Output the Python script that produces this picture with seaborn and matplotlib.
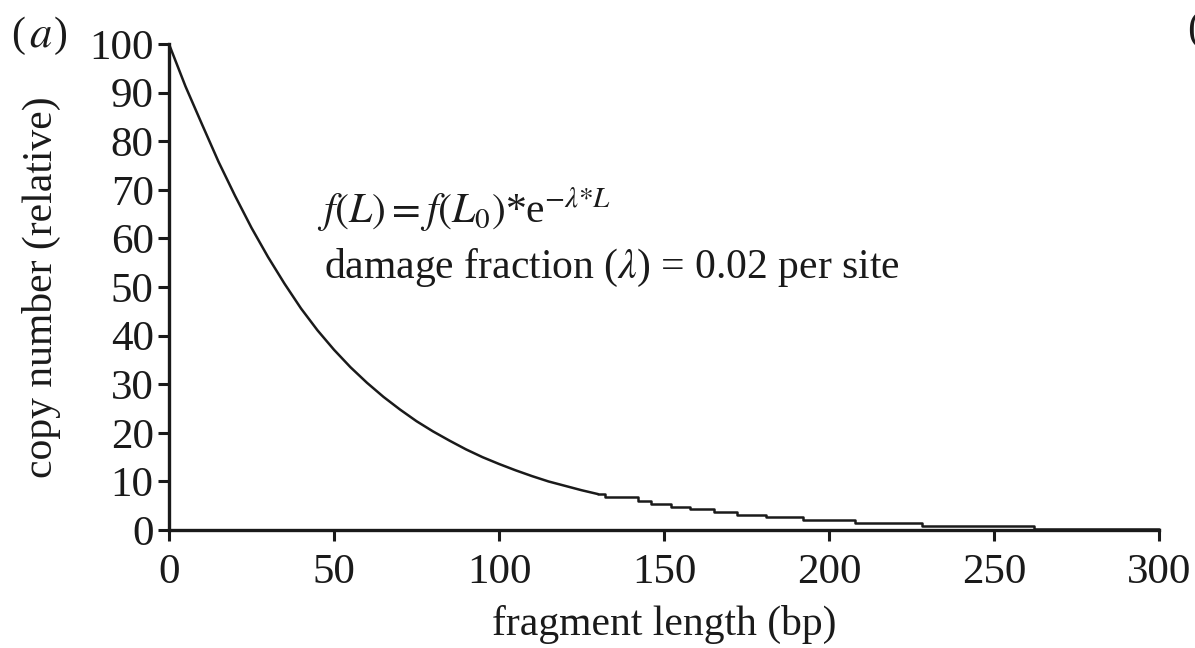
import numpy as np
import pandas as pd
import matplotlib
matplotlib.use("Agg")
import matplotlib.pyplot as plt
import seaborn as sns

# Smooth head of the decay curve
head_length = [0, 5, 10, 15, 20, 25, 30, 35, 40, 45, 50, 55, 60, 65, 70, 75, 80,
               85, 90, 95, 100, 105, 110, 115, 120, 125, 130]
head_copies = [100, 91.3, 83.5, 75.8, 68.8, 62.2, 56.2, 50.7, 45.6, 41.1, 37.1, 33.5,
               30.3, 27.4, 24.8, 22.4, 20.3, 18.4, 16.6, 15.0, 13.6, 12.3, 11.1, 10.0,
               9.1, 8.2, 7.4]
# Stepped tail (start of each step and its level)
tail_length = [130, 132, 142, 146, 152, 158, 165, 172, 181, 192, 208, 228, 262, 300]
tail_copies = [7.4, 6.9, 6.0, 5.4, 4.8, 4.3, 3.7, 3.2, 2.7, 2.1, 1.5, 0.9, 0.25, 0.25]

x_ticks = [0, 50, 100, 150, 200, 250, 300]
y_ticks = [0, 10, 20, 30, 40, 50, 60, 70, 80, 90, 100]

sns.set_theme(style="white")
plt.rcParams["font.family"] = ["Liberation Serif", "DejaVu Serif"]
plt.rcParams["mathtext.fontset"] = "stix"

fig = plt.figure(figsize=(11.95, 6.48), dpi=100)
ax = fig.add_axes([0.1414, 0.182, 0.8286, 0.750])

head = pd.DataFrame({"length": head_length, "copies": head_copies})
tail = pd.DataFrame({"length": tail_length, "copies": tail_copies})
sns.lineplot(data=head, x="length", y="copies", ax=ax, color="#1a1a1a", lw=1.8,
             clip_on=False)
sns.lineplot(data=tail, x="length", y="copies", ax=ax, color="#1a1a1a", lw=1.8,
             drawstyle="steps-post", clip_on=False)

ax.set_xlim(0, 300)
ax.set_ylim(0, 100)
ax.set_xticks(x_ticks)
ax.set_yticks(y_ticks)
for s in ["top", "right"]:
    ax.spines[s].set_visible(False)
for s in ["left", "bottom"]:
    ax.spines[s].set_linewidth(2.4)
    ax.spines[s].set_color("#1a1a1a")
ax.tick_params(axis="both", direction="out", length=8, width=2.2, color="#1a1a1a",
               labelsize=31, labelcolor="#1a1a1a", left=True, bottom=True)
ax.tick_params(axis="x", pad=9)
ax.tick_params(axis="y", pad=3)
ax.set_xlabel("fragment length (bp)", fontsize=30, color="#1a1a1a", labelpad=9)
ax.set_ylabel("copy number (relative)", fontsize=30, color="#1a1a1a", labelpad=20)

ax.text(0.150, 0.66, r"$f(L) = f(L_0)$*e$^{-\lambda{*}L}$", transform=ax.transAxes,
        fontsize=30, color="#1a1a1a", va="center", ha="left")
ax.text(0.157, 0.54, r"damage fraction ($\lambda$) = 0.02 per site", transform=ax.transAxes,
        fontsize=30, color="#1a1a1a", va="center", ha="left")

fig.text(0.009, 0.945, "(", fontsize=30, color="#1a1a1a", va="center")
fig.text(0.024, 0.945, r"$a$", fontsize=32, color="#1a1a1a", va="center")
fig.text(0.045, 0.945, ")", fontsize=30, color="#1a1a1a", va="center")
fig.text(0.993, 0.955, "(b)", fontsize=30, color="#1a1a1a", va="center", clip_on=True)

fig.savefig("out.png", dpi=100)
